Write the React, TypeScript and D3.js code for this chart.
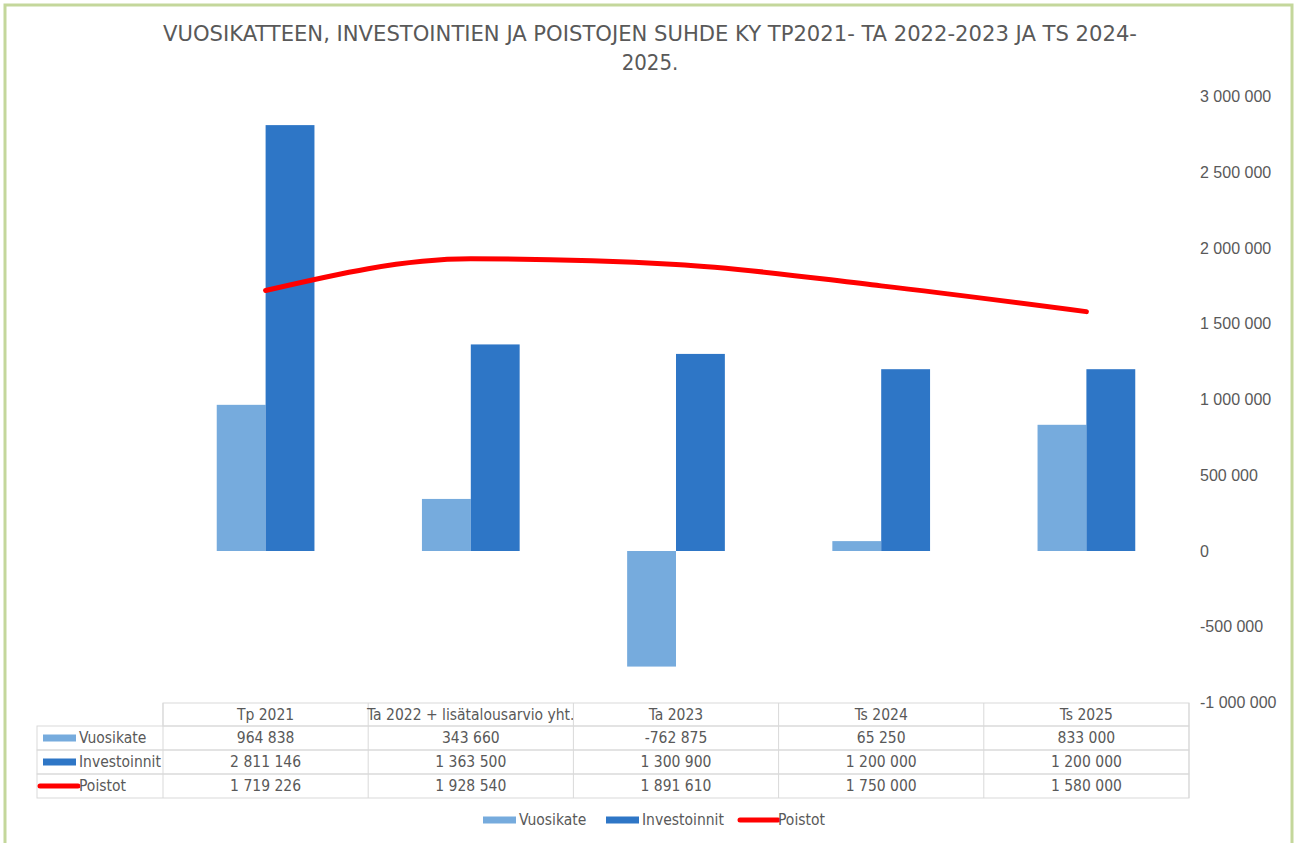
import React from 'react';
import * as d3 from 'd3';

const categories = ['Tp 2021', 'Ta 2022 + lisätalousarvio yht.', 'Ta 2023', 'Ts 2024', 'Ts 2025'];
const vuosikate = [964838, 343660, -762875, 65250, 833000];
const investoinnit = [2811146, 1363500, 1300900, 1200000, 1200000];
const poistot = [1719226, 1928540, 1891610, 1750000, 1580000];
const yTicks = [-1000000, -500000, 0, 500000, 1000000, 1500000, 2000000, 2500000, 3000000];
const titleLines = [
  'VUOSIKATTEEN, INVESTOINTIEN JA POISTOJEN SUHDE KY TP2021- TA 2022-2023 JA TS 2024-',
  '2025.',
];

const W = 1296;
const H = 843;
const C_VK = '#76abdd';
const C_INV = '#2e76c6';
const C_POI = '#ff0000';
const TXT = '#595959';
const GRID = '#d9d9d9';
const NARROW = '"Liberation Sans Narrow", "DejaVu Sans Condensed", sans-serif';
const SANS = '"Liberation Sans", Arial, sans-serif';

const fi = d3.formatLocale({ decimal: ',', thousands: '\u00a0', grouping: [3], currency: ['', ' €'], minus: '-' });
const fmt = fi.format(',d');

const App = () => {
  const left = 163;
  const right = 1189;

  const x = d3.scaleBand<string>().domain(categories).range([left, right]).padding(0);
  const x1 = d3.scaleBand<string>()
    .domain(['Vuosikate', 'Investoinnit'])
    .range([0, x.bandwidth()])
    .paddingInner(0)
    .paddingOuter(1.1);

  const y = d3.scaleLinear().domain([-1000000, 3000000]).range([702.5, 96.5]);

  const line = d3.line<number>()
    .x((d, i) => (x(categories[i]) as number) + x.bandwidth() / 2)
    .y(d => y(d))
    .curve(d3.curveMonotoneX);

  const rows = [
    { name: 'Vuosikate', values: vuosikate, kind: 'bar', color: C_VK },
    { name: 'Investoinnit', values: investoinnit, kind: 'bar', color: C_INV },
    { name: 'Poistot', values: poistot, kind: 'line', color: C_POI },
  ];

  const tableTop = 703;
  const headH = 23;
  const rowH = 24;
  const tableLeft = 37;

  const legendItems = [
    { name: 'Vuosikate', kind: 'bar', color: C_VK, x: 483 },
    { name: 'Investoinnit', kind: 'bar', color: C_INV, x: 606 },
    { name: 'Poistot', kind: 'line', color: C_POI, x: 738 },
  ];

  return (
    <svg width={W} height={H} style={{ position: 'fixed', left: 0, top: 0, background: '#fff' }}>
      <rect x={5} y={5} width={1287} height={845} fill="#fff" stroke="#c4d79b" strokeWidth={3} />

      <text x={650} y={41} textAnchor="middle" fontFamily={NARROW} fontSize={22} fill={TXT}
        textLength={974} lengthAdjust="spacingAndGlyphs">
        {titleLines[0]}
      </text>
      <text x={650} y={70} textAnchor="middle" fontFamily={NARROW} fontSize={22} fill={TXT}>
        {titleLines[1]}
      </text>

      {/* y axis labels on the right */}
      {yTicks.map(t => (
        <text key={t} x={1200} y={y(t)} dy="0.35em" fontFamily={SANS} fontSize={16} fill={TXT}>
          {fmt(t)}
        </text>
      ))}

      {/* bars */}
      {categories.map((c, i) => {
        const x0 = x(c) as number;
        return (
          <g key={c}>
            <rect
              x={x0 + (x1('Vuosikate') as number)}
              y={y(Math.max(0, vuosikate[i]))}
              width={x1.bandwidth()}
              height={Math.abs(y(vuosikate[i]) - y(0))}
              fill={C_VK}
            />
            <rect
              x={x0 + (x1('Investoinnit') as number)}
              y={y(Math.max(0, investoinnit[i]))}
              width={x1.bandwidth()}
              height={Math.abs(y(investoinnit[i]) - y(0))}
              fill={C_INV}
            />
          </g>
        );
      })}

      <path d={line(poistot) ?? ''} fill="none" stroke={C_POI} strokeWidth={5} strokeLinecap="round" />

      {/* data table */}
      <g fontFamily={NARROW} fontSize={15.5} fill={TXT}>
        <rect x={left} y={tableTop} width={right - left} height={headH} fill="none" stroke={GRID} />
        {categories.map(c => (
          <g key={c}>
            <line x1={x(c)} x2={x(c)} y1={tableTop} y2={tableTop + headH + rowH * 3} stroke={GRID} />
            <text x={(x(c) as number) + x.bandwidth() / 2} y={tableTop + headH / 2} dy="0.35em" textAnchor="middle">
              {c}
            </text>
          </g>
        ))}
        <line x1={right} x2={right} y1={tableTop} y2={tableTop + headH + rowH * 3} stroke={GRID} />
        {rows.map((r, ri) => {
          const ry = tableTop + headH + ri * rowH;
          return (
            <g key={r.name}>
              <rect x={tableLeft} y={ry} width={right - tableLeft} height={rowH} fill="none" stroke={GRID} />
              {r.kind === 'bar' ? (
                <rect x={43} y={ry + rowH / 2 - 3.5} width={33} height={7} fill={r.color} />
              ) : (
                <line x1={40} x2={78} y1={ry + rowH / 2} y2={ry + rowH / 2} stroke={r.color} strokeWidth={5} strokeLinecap="round" />
              )}
              <text x={79} y={ry + rowH / 2} dy="0.35em">{r.name}</text>
              {r.values.map((v, i) => (
                <text key={i} x={(x(categories[i]) as number) + x.bandwidth() / 2} y={ry + rowH / 2} dy="0.35em" textAnchor="middle">
                  {fmt(v)}
                </text>
              ))}
            </g>
          );
        })}
      </g>

      {/* legend */}
      <g fontFamily={NARROW} fontSize={15.5} fill={TXT}>
        {legendItems.map(l => (
          <g key={l.name}>
            {l.kind === 'bar' ? (
              <rect x={l.x} y={816.5} width={33} height={7} fill={l.color} />
            ) : (
              <line x1={l.x + 2} x2={l.x + 40} y1={820} y2={820} stroke={l.color} strokeWidth={5} strokeLinecap="round" />
            )}
            <text x={l.x + (l.kind === 'bar' ? 36 : 40)} y={820} dy="0.35em">{l.name}</text>
          </g>
        ))}
      </g>
    </svg>
  );
};

export default App;
